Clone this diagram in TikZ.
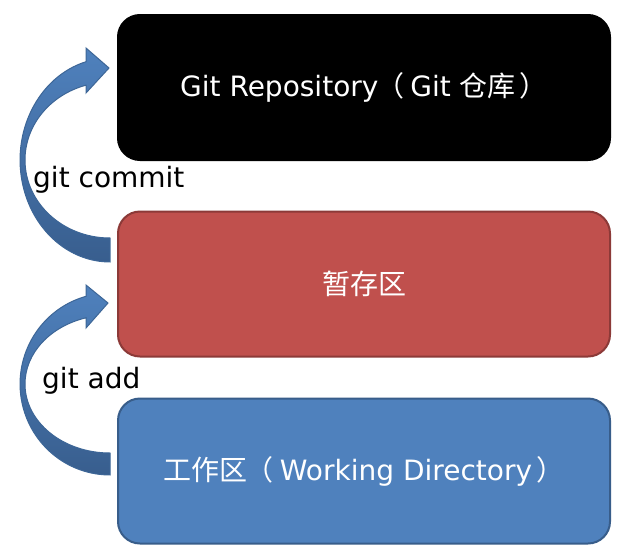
\documentclass[tikz,border=0pt]{standalone}
\usepackage{fontspec}
\setmainfont{DejaVu Sans}
\newfontfamily\cjk{Noto Sans CJK SC}
\definecolor{stagered}{HTML}{C0504D}
\definecolor{stageborder}{HTML}{8C3A38}
\definecolor{workblue}{HTML}{4F81BD}
\definecolor{workborder}{HTML}{385D8A}
\definecolor{arrowlight}{HTML}{4F81BD}
\definecolor{arrowdark}{HTML}{385E8E}
\definecolor{arrowborder}{HTML}{3D6697}
\newcommand{\lpar}{{\cjk\kern-2pt（\kern6pt}}
\newcommand{\rpar}{{\cjk\kern4pt）}}
\begin{document}
\begin{tikzpicture}[x=1pt,y=-1pt,
  box/.style={rounded corners=22pt, minimum width=492pt, minimum height=145pt,
    line width=2pt, text=white, font=\fontsize{28}{34}\selectfont, inner sep=0pt},
  curvearrow/.style={top color=arrowlight, bottom color=arrowdark, draw=arrowborder, line width=1pt},
  lbl/.style={anchor=base west, inner sep=0pt, font=\fontsize{28}{34}\selectfont}]
\fill[white] (0,0) rectangle (636,557);
\useasboundingbox (0,0) rectangle (636,557);

\node[box, fill=black, draw=black] (repo) at (364,87.5) {Git Repository\lpar Git {\cjk 仓库}\rpar};
\node[box, fill=stagered, draw=stageborder] (stage) at (364,284) {\cjk 暂存区};
\node[box, fill=workblue, draw=workborder] (work) at (364,471) {{\cjk 工作区}\lpar Working Directory\rpar};

% upper curved arrow (git commit)
\shade[curvearrow]
  (110,238) arc[start angle=90, end angle=253.6, x radius=85, y radius=78]
  -- (86,93) -- (109,68) -- (86,48) -- (86,61.7)
  arc[start angle=254.5, end angle=90, x radius=90, y radius=102] -- cycle;

% lower curved arrow (git add)
\shade[curvearrow]
  (110,453) arc[start angle=90, end angle=253.6, x radius=85, y radius=69]
  -- (86,328) -- (108,303) -- (86,285) -- (86,296.3)
  arc[start angle=254.5, end angle=90, x radius=90, y radius=91] -- cycle;

\node[lbl] (commitlbl) at (33,187) {git commit};
\node[lbl] (addlbl) at (42,388) {git add};
\end{tikzpicture}
\end{document}
